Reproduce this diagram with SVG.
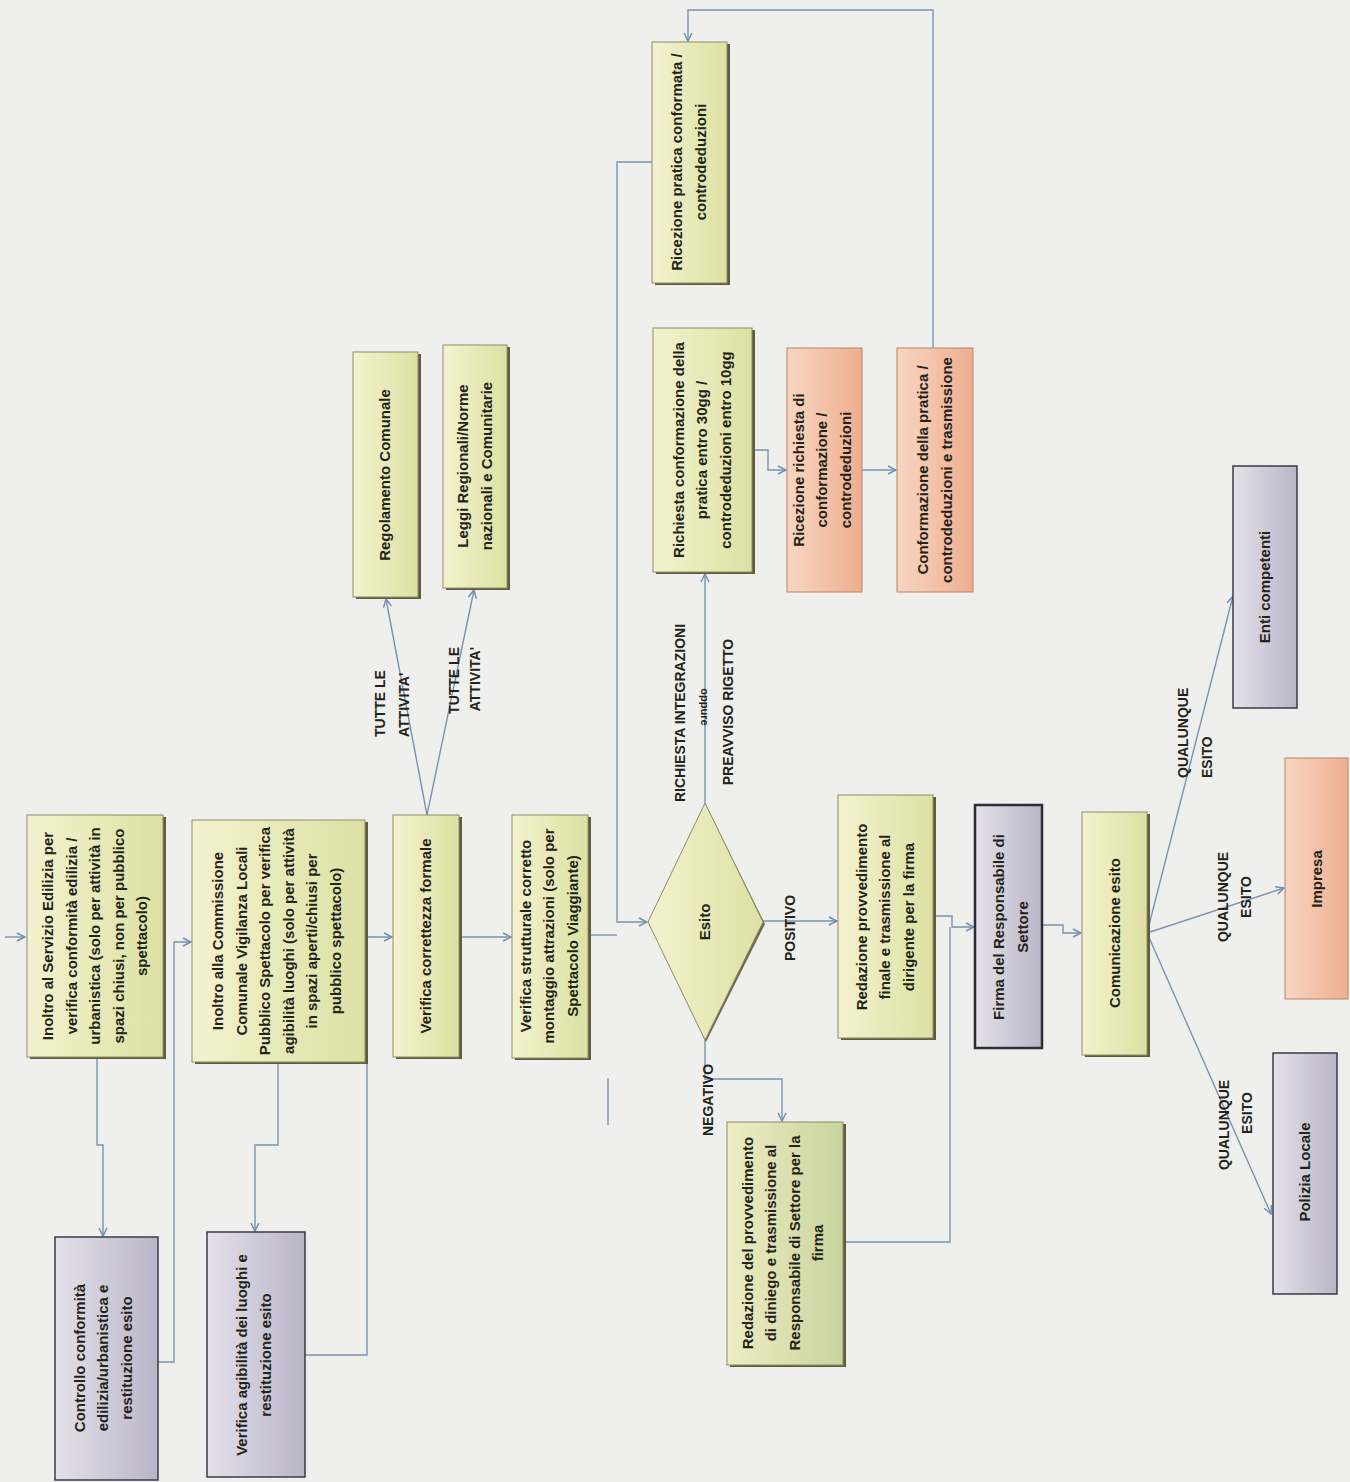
<svg xmlns="http://www.w3.org/2000/svg" width="1350" height="1482" viewBox="0 0 1350 1482">
<defs>
<style>
.t{font-family:"Liberation Sans",Arial,sans-serif;font-weight:bold;font-size:15px;fill:#23231a;text-anchor:middle}
.l{font-family:"Liberation Sans",Arial,sans-serif;font-weight:bold;font-size:14px;fill:#23231a}
.c{fill:none;stroke:#7d93ad;stroke-width:1.4}
.a{marker-end:url(#ah)}
.sh{fill:#5e5b3e}
.y{fill:url(#gy);stroke:#8f8c66;stroke-width:1}
.s{fill:url(#gs);stroke:#b98468;stroke-width:1}
.p{fill:url(#gp);stroke:#3b3b45;stroke-width:1.5}
.d{fill:url(#gd);stroke:#8f8c66;stroke-width:1}
</style>
<linearGradient id="gy" x1="0" y1="0" x2="1" y2="0"><stop offset="0" stop-color="#f4f2cf"/><stop offset="1" stop-color="#dde1a3"/></linearGradient>
<linearGradient id="gs" x1="0" y1="0" x2="1" y2="0"><stop offset="0" stop-color="#f8d6c2"/><stop offset="1" stop-color="#eeae8f"/></linearGradient>
<linearGradient id="gp" x1="0" y1="0" x2="1" y2="0"><stop offset="0" stop-color="#e4e1ea"/><stop offset="1" stop-color="#b9b5c8"/></linearGradient>
<linearGradient id="gd" x1="0" y1="0" x2="1" y2="0"><stop offset="0" stop-color="#eeedc4"/><stop offset="1" stop-color="#c8d49d"/></linearGradient>
<marker id="ah" viewBox="0 0 10 10" refX="9" refY="5" markerWidth="10" markerHeight="10" orient="auto" markerUnits="userSpaceOnUse"><path d="M1,1 L9,5 L1,9" fill="none" stroke="#6f8fb2" stroke-width="1.5"/></marker>
</defs>
<rect x="0" y="0" width="1350" height="1482" fill="#efefed"/>

<g id="connectors">
<path class="c a" d="M5,937 H25"/>
<path class="c a" d="M97,1057 V1145 H103 V1236"/>
<path class="c a" d="M158,1362 H174 V942 H191"/>
<path class="c a" d="M278,1062 V1145 H255 V1231"/>
<path class="c a" d="M305,1355 H367 V937 H392"/>
<path class="c a" d="M460,937 H511"/>
<path class="c a" d="M427,815 L386,599"/>
<path class="c a" d="M427,815 L474,590"/>
<path class="c" d="M588,935 H617"/>
<path class="c a" d="M652,162 H617 V922 H647"/>
<path class="c a" d="M705,803 V574"/>
<path class="c a" d="M752,450 H768 V470 H786"/>
<path class="c a" d="M862,470 H896"/>
<path class="c a" d="M933,348 V10 H688 V41"/>
<path class="c a" d="M763,921 H837"/>
<path class="c a" d="M705,1040 V1079 H782 V1121"/>
<path class="c a" d="M933,916 H952 V927 H974"/>
<path class="c" d="M843,1242 H950 V927"/>
<path class="c a" d="M1042,925 H1063 V933 H1081"/>
<path class="c a" d="M1147,933 L1233,596"/>
<path class="c a" d="M1147,933 L1284,888"/>
<path class="c a" d="M1147,933 L1271,1214"/>
<path class="c" d="M608,1078 V1125"/>
<path class="c" d="M1325,1100 V1116"/>
</g>

<g id="n-inoltro-edilizia">
<rect class="sh" x="30" y="817" width="136" height="242"/>
<rect class="y" x="27" y="815" width="136" height="242"/>
<text class="t" transform="translate(95,936) rotate(-90)"><tspan x="0" y="-42">Inoltro al Servizio Edilizia per</tspan><tspan x="0" y="-18.5">verifica conformità edilizia /</tspan><tspan x="0" y="5">urbanistica (solo per attività in</tspan><tspan x="0" y="28.5">spazi chiusi, non per pubblico</tspan><tspan x="0" y="52">spettacolo)</tspan></text>
</g>

<g id="n-controllo">
<rect class="p" x="55" y="1237" width="103" height="243"/>
<text class="t" transform="translate(103,1358) rotate(-90)"><tspan x="0" y="-18.5">Controllo conformità</tspan><tspan x="0" y="5">edilizia/urbanistica e</tspan><tspan x="0" y="28.5">restituzione esito</tspan></text>
</g>

<g id="n-commissione">
<rect class="sh" x="195" y="822" width="173" height="242"/>
<rect class="y" x="192" y="820" width="173" height="242"/>
<text class="t" transform="translate(277,941) rotate(-90)"><tspan x="0" y="-53.75">Inoltro alla Commissione</tspan><tspan x="0" y="-30.25">Comunale Vigilanza Locali</tspan><tspan x="0" y="-6.75">Pubblico Spettacolo per verifica</tspan><tspan x="0" y="16.75">agibilità luoghi (solo per attività</tspan><tspan x="0" y="40.25">in spazi aperti/chiusi per</tspan><tspan x="0" y="63.75">pubblico spettacolo)</tspan></text>
</g>

<g id="n-agibilita">
<rect class="p" x="207" y="1232" width="98" height="245"/>
<text class="t" transform="translate(254,1355) rotate(-90)"><tspan x="0" y="-6.75">Verifica agibilità dei luoghi e</tspan><tspan x="0" y="16.75">restituzione esito</tspan></text>
</g>

<g id="n-correttezza">
<rect class="sh" x="396" y="817" width="66" height="242"/>
<rect class="y" x="393" y="815" width="66" height="242"/>
<text class="t" transform="translate(426,936) rotate(-90)"><tspan x="0" y="5">Verifica correttezza formale</tspan></text>
</g>

<g id="n-strutturale">
<rect class="sh" x="515" y="817" width="76" height="243"/>
<rect class="y" x="512" y="815" width="76" height="243"/>
<text class="t" transform="translate(549,936) rotate(-90)"><tspan x="0" y="-18.5">Verifica strutturale corretto</tspan><tspan x="0" y="5">montaggio attrazioni (solo per</tspan><tspan x="0" y="28.5">Spettacolo Viaggiante)</tspan></text>
</g>

<g id="n-regolamento">
<rect class="sh" x="356" y="354" width="65" height="245"/>
<rect class="y" x="353" y="352" width="65" height="245"/>
<text class="t" transform="translate(385,475) rotate(-90)"><tspan x="0" y="5">Regolamento Comunale</tspan></text>
</g>

<g id="n-leggi">
<rect class="sh" x="446" y="347" width="64" height="243"/>
<rect class="y" x="443" y="345" width="64" height="243"/>
<text class="t" transform="translate(475,466) rotate(-90)"><tspan x="0" y="-6.75">Leggi Regionali/Norme</tspan><tspan x="0" y="16.75">nazionali e Comunitarie</tspan></text>
</g>

<g id="n-esito">
<polygon points="706,805 765,924 706,1042 650,924" fill="#6e6c4c"/>
<polygon points="705,803 763,922 705,1040 648,922" fill="url(#gy)" stroke="#8f8c66" stroke-width="1"/>
<text class="t" transform="translate(705,922) rotate(-90)"><tspan x="0" y="5">Esito</tspan></text>
</g>

<g id="n-richiesta">
<rect class="sh" x="656" y="330" width="99" height="244"/>
<rect class="y" x="653" y="328" width="99" height="244"/>
<text class="t" transform="translate(702,450) rotate(-90)"><tspan x="0" y="-18.5">Richiesta conformazione della</tspan><tspan x="0" y="5">pratica entro 30gg /</tspan><tspan x="0" y="28.5">controdeduzioni entro 10gg</tspan></text>
</g>

<g id="n-ricezione-richiesta">
<rect class="s" x="787" y="348" width="75" height="244"/>
<text class="t" transform="translate(822,470) rotate(-90)"><tspan x="0" y="-18.5">Ricezione richiesta di</tspan><tspan x="0" y="5">conformazione /</tspan><tspan x="0" y="28.5">controdeduzioni</tspan></text>
</g>

<g id="n-conformazione">
<rect class="s" x="897" y="348" width="76" height="244"/>
<text class="t" transform="translate(935,470) rotate(-90)"><tspan x="0" y="-6.75">Conformazione della pratica /</tspan><tspan x="0" y="16.75">controdeduzioni e trasmissione</tspan></text>
</g>

<g id="n-ricezione-pratica">
<rect class="sh" x="655" y="44" width="75" height="241"/>
<rect class="y" x="652" y="42" width="75" height="241"/>
<text class="t" transform="translate(689,162) rotate(-90)"><tspan x="0" y="-6.75">Ricezione pratica conformata /</tspan><tspan x="0" y="16.75">controdeduzioni</tspan></text>
</g>

<g id="n-redazione-finale">
<rect class="sh" x="841" y="797" width="95" height="243"/>
<rect class="y" x="838" y="795" width="95" height="243"/>
<text class="t" transform="translate(885,917) rotate(-90)"><tspan x="0" y="-18.5">Redazione provvedimento</tspan><tspan x="0" y="5">finale e trasmissione al</tspan><tspan x="0" y="28.5">dirigente per la firma</tspan></text>
</g>

<g id="n-firma">
<rect x="975" y="805" width="67" height="243" fill="url(#gp)" stroke="#2d2d33" stroke-width="2.5"/>
<text class="t" transform="translate(1011,927) rotate(-90)"><tspan x="0" y="-6.75">Firma del Responsabile di</tspan><tspan x="0" y="16.75">Settore</tspan></text>
</g>

<g id="n-comunicazione">
<rect class="sh" x="1085" y="814" width="65" height="243"/>
<rect class="y" x="1082" y="812" width="65" height="243"/>
<text class="t" transform="translate(1115,933) rotate(-90)"><tspan x="0" y="5">Comunicazione esito</tspan></text>
</g>

<g id="n-diniego">
<rect class="sh" x="730" y="1124" width="116" height="243"/>
<rect class="d" x="727" y="1122" width="116" height="243"/>
<text class="t" transform="translate(783,1243) rotate(-90)"><tspan x="0" y="-30.25">Redazione del provvedimento</tspan><tspan x="0" y="-6.75">di diniego e trasmissione al</tspan><tspan x="0" y="16.75">Responsabile di Settore per la</tspan><tspan x="0" y="40.25">firma</tspan></text>
</g>

<g id="n-enti">
<rect class="p" x="1233" y="466" width="64" height="242"/>
<text class="t" transform="translate(1265,587) rotate(-90)"><tspan x="0" y="5">Enti competenti</tspan></text>
</g>

<g id="n-impresa">
<rect class="s" x="1285" y="758" width="63" height="241"/>
<text class="t" transform="translate(1317,879) rotate(-90)"><tspan x="0" y="5">Impresa</tspan></text>
</g>

<g id="n-polizia">
<rect class="p" x="1273" y="1053" width="64" height="241"/>
<text class="t" transform="translate(1305,1172) rotate(-90)"><tspan x="0" y="5">Polizia Locale</tspan></text>
</g>

<g id="labels">
<text class="l" transform="translate(385,737) rotate(-90)">TUTTE LE</text>
<text class="l" transform="translate(409,737) rotate(-90)">ATTIVITA'</text>
<text class="l" text-anchor="end" transform="translate(459,647) rotate(-90)">TUTTE LE</text>
<text class="l" text-anchor="end" transform="translate(480,647) rotate(-90)">ATTIVITA'</text>
<text class="l" text-anchor="middle" transform="translate(685,713) rotate(-90)">RICHIESTA INTEGRAZIONI</text>
<text class="l" text-anchor="middle" style="font-size:11px" transform="translate(701,707) rotate(90)">oppure</text>
<text class="l" text-anchor="middle" transform="translate(733,712) rotate(-90)">PREAVVISO RIGETTO</text>
<text class="l" text-anchor="middle" transform="translate(795,928) rotate(-90)">POSITIVO</text>
<text class="l" text-anchor="middle" transform="translate(713,1100) rotate(-90)">NEGATIVO</text>
<text class="l" transform="translate(1188,778) rotate(-90)">QUALUNQUE</text>
<text class="l" transform="translate(1212,778) rotate(-90)">ESITO</text>
<text class="l" text-anchor="middle" transform="translate(1228,897) rotate(-90)">QUALUNQUE</text>
<text class="l" text-anchor="middle" transform="translate(1251,897) rotate(-90)">ESITO</text>
<text class="l" text-anchor="middle" transform="translate(1229,1125) rotate(-90)">QUALUNQUE</text>
<text class="l" text-anchor="middle" transform="translate(1252,1113) rotate(-90)">ESITO</text>
</g>
</svg>
